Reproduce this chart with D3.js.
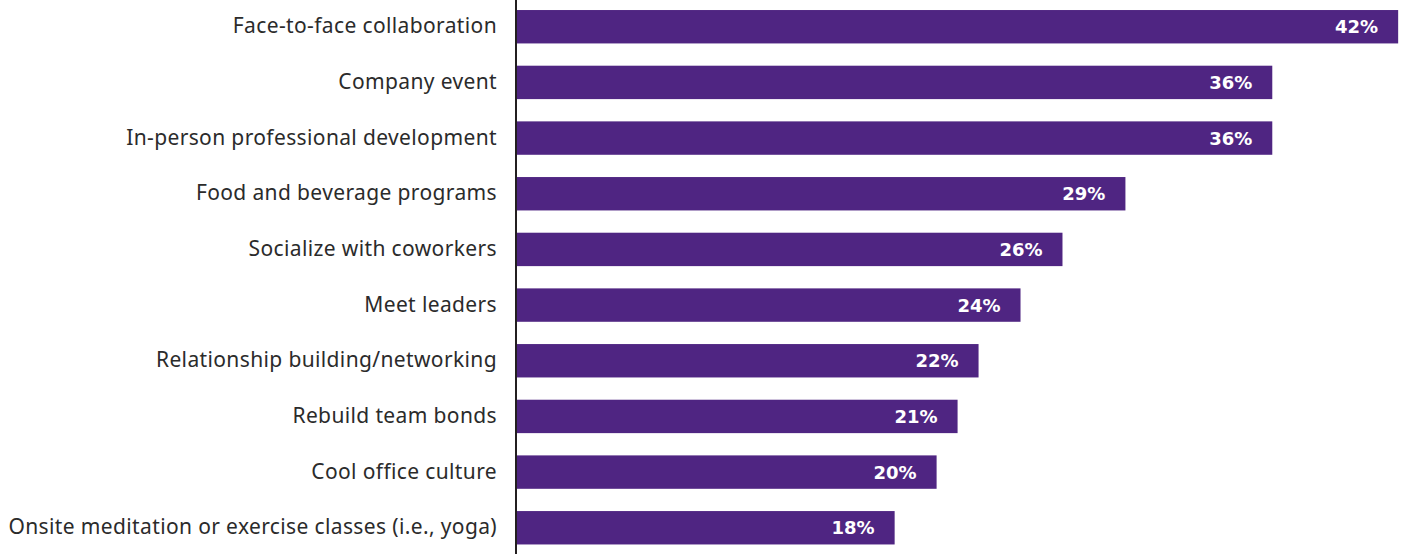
<!DOCTYPE html>
<html>
<head>
<meta charset="utf-8">
<script src="https://cdn.jsdelivr.net/npm/d3@7"></script>
<style>
  html, body { margin: 0; padding: 0; background: #ffffff; }
  svg { display: block; }
</style>
</head>
<body>
<svg id="chart" width="1403" height="554"></svg>
<script>
// Reasons for going to the office, share of respondents (%)
const categories = [
  "Face-to-face collaboration",
  "Company event",
  "In-person professional development",
  "Food and beverage programs",
  "Socialize with coworkers",
  "Meet leaders",
  "Relationship building/networking",
  "Rebuild team bonds",
  "Cool office culture",
  "Onsite meditation or exercise classes (i.e., yoga)"
];
const values = [42, 36, 36, 29, 26, 24, 22, 21, 20, 18];

const W = 1403, H = 554;
const axisX = 516;
const svg = d3.select("#chart");

const x = d3.scaleLinear().domain([0, 42]).range([axisX + 1, axisX + 1 + 20.98 * 42]);
const y = d3.scaleBand()
  .domain(categories)
  .range([-1.1, 555.6])
  .paddingInner(0.4)
  .paddingOuter(0.2);

const rows = categories.map((c, i) => ({ cat: c, val: values[i] }));

// bars
svg.append("g").selectAll("rect")
  .data(rows)
  .join("rect")
  .attr("x", x(0))
  .attr("y", d => y(d.cat))
  .attr("width", d => x(d.val) - x(0))
  .attr("height", y.bandwidth())
  .attr("fill", "#4f2582");

// value labels inside bar ends
svg.append("g").selectAll("text")
  .data(rows)
  .join("text")
  .attr("x", d => x(d.val) - 20)
  .attr("y", d => y(d.cat) + y.bandwidth() / 2)
  .attr("dy", "0.36em")
  .attr("text-anchor", "end")
  .attr("fill", "#ffffff")
  .style("font-family", "'DejaVu Sans', sans-serif")
  .style("font-weight", "700")
  .style("font-size", "18px")
  .text(d => d.val + "%");

// category labels
const yAxis = d3.axisLeft(y).tickSize(0).tickPadding(19);
const ag = svg.append("g")
  .attr("transform", `translate(${axisX},0)`)
  .call(yAxis);
ag.select(".domain").remove();
ag.selectAll("text")
  .attr("fill", "#2b2b2b")
  .style("font-family", "'Noto Sans', sans-serif")
  .style("font-size", "21px")
  .style("letter-spacing", "0.37px");

// vertical baseline
svg.append("line")
  .attr("x1", axisX).attr("x2", axisX)
  .attr("y1", 0).attr("y2", H)
  .attr("stroke", "#231f20")
  .attr("stroke-width", 2);
</script>
</body>
</html>
